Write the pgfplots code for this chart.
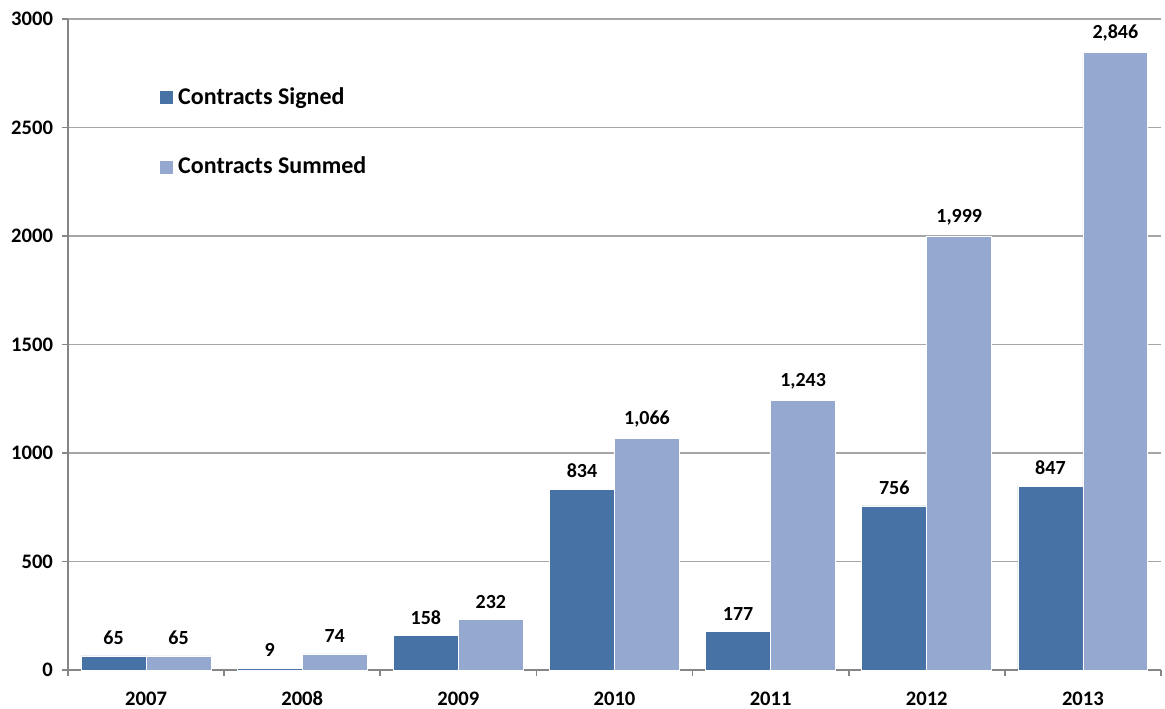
\documentclass[border=0pt]{standalone}
\usepackage{fontspec}
\setmainfont{Carlito}
\usepackage{pgfplots}
\pgfplotsset{compat=1.18}
\definecolor{dark}{HTML}{4672A6}
\definecolor{light}{HTML}{95A9D0}
\definecolor{axisgray}{HTML}{868686}
\definecolor{gridgray}{HTML}{A6A6A6}
\begin{document}
\begin{tikzpicture}
\path[use as bounding box] (-34pt,-19pt) rectangle (548.5pt,335pt);
\begin{axis}[
  at={(0,0)}, anchor=south west,
  scale only axis, width=546.5pt, height=325.5pt,
  ymin=0, ymax=3000, ytick={0,500,...,3000},
  xmin=-0.5, xmax=6.5,
  xtick={-0.5,0.5,...,6.5},
  xticklabels={2007,2008,2009,2010,2011,2012,2013},
  x tick label as interval,
  xticklabel style={anchor=north, text height=6.6pt, text depth=0pt, yshift=-4.5pt},
  yticklabel style={xshift=-1pt},
  axis x line*=bottom, axis y line*=left,
  axis line style={draw=axisgray, line width=0.8pt, -},
  tick style={draw=axisgray, line width=0.8pt},
  tick align=outside, major tick length=3pt,
  ymajorgrids, grid style={draw=gridgray, line width=0.6pt},
  font=\fontsize{10.3}{12}\selectfont\bfseries,
  /pgf/number format/assume math mode=true,
  /pgf/number format/1000 sep={},
  clip=false,
  ybar, bar width=0.416,
  nodes near coords={\pgfmathprintnumber[1000 sep={,}]{\pgfplotspointmeta}},
  nodes near coords style={font=\fontsize{10}{12}\selectfont\bfseries, yshift=2pt},
  legend style={at={(0.0833,0.902)}, anchor=north west, draw=none, fill=none,
    font=\fontsize{12}{14}\selectfont\bfseries, row sep=21pt, inner sep=0pt},
  legend cell align=left,
  legend image code/.code={\fill[#1] (0pt,-3.5pt) rectangle (7pt,3.5pt);},
]
\addplot[fill=dark, draw=white, line width=0.4pt, bar shift=-0.208] coordinates
  {(0,65) (1,9) (2,158) (3,834) (4,177) (5,756) (6,847)};
\addplot[fill=light, draw=white, line width=0.4pt, bar shift=0.208] coordinates
  {(0,65) (1,74) (2,232) (3,1066) (4,1243) (5,1999) (6,2846)};
\legend{Contracts Signed, Contracts Summed}
\end{axis}
\end{tikzpicture}
\end{document}
